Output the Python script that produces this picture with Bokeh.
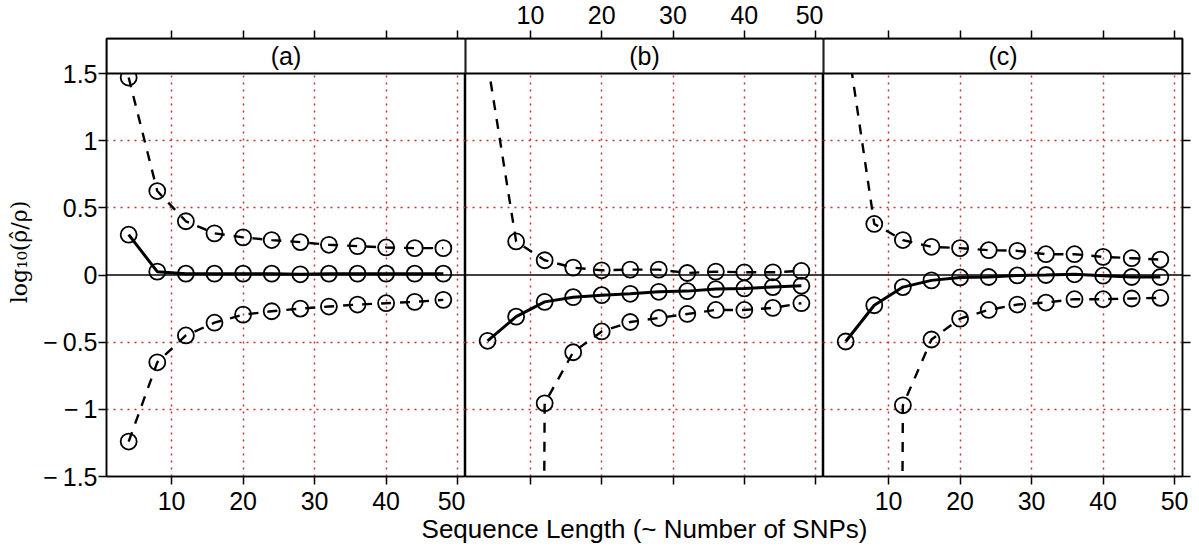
from bokeh.plotting import figure
from bokeh.layouts import row, column
from bokeh.models import FixedTicker, LinearAxis, Range1d, Span, CustomJSTickFormatter, Grid
from bokeh.core.properties import value
from bokeh.embed import file_html
from bokeh.resources import INLINE

# ---------------- data ----------------
seq_len = [4, 8, 12, 16, 20, 24, 28, 32, 36, 40, 44, 48]

a_upper = [1.47, 0.625, 0.40, 0.31, 0.28, 0.26, 0.245, 0.225, 0.215, 0.205, 0.20, 0.20]
a_median = [0.30, 0.025, 0.01, 0.01, 0.01, 0.01, 0.005, 0.01, 0.01, 0.01, 0.01, 0.01]
a_lower = [-1.24, -0.65, -0.45, -0.355, -0.295, -0.27, -0.25, -0.235, -0.22, -0.21, -0.20, -0.185]

b_upper = [1.58, 0.25, 0.11, 0.055, 0.035, 0.04, 0.04, 0.015, 0.025, 0.02, 0.02, 0.03]
b_median = [-0.49, -0.31, -0.20, -0.165, -0.15, -0.14, -0.125, -0.12, -0.105, -0.10, -0.09, -0.08]
b_lower = [-40.0, -40.0, -0.955, -0.575, -0.42, -0.35, -0.32, -0.29, -0.26, -0.26, -0.245, -0.21]

c_upper = [1.82, 0.38, 0.26, 0.21, 0.20, 0.185, 0.18, 0.155, 0.155, 0.135, 0.125, 0.115]
c_median = [-0.495, -0.225, -0.09, -0.04, -0.018, -0.015, -0.003, 0.0, 0.005, -0.005, -0.015, -0.015]
c_lower = [-40.0, -40.0, -0.97, -0.48, -0.325, -0.26, -0.22, -0.205, -0.18, -0.18, -0.175, -0.17]

panel_titles = ["(a)", "(b)", "(c)"]
x_ticks = [10, 20, 30, 40, 50]
y_ticks = [-1.5, -1, -0.5, 0, 0.5, 1, 1.5]
y_grid = [-1, -0.5, 0.5, 1]
x_label = "Sequence Length (~ Number of SNPs)"
y_label = "\u2002log\u2081\u2080(\u03c1\u0302/\u03c1)"

# ---------------- style ----------------
X_LO, X_HI = 0.9, 51.1
Y_LO, STRIP_Y, Y_HI = -1.5, 1.5, 1.7606
FONT = "Liberation Sans"
FS = "25px"
GRID_COLOR = "#c83232"

EMPTY = CustomJSTickFormatter(code="return '';")
MINUS = CustomJSTickFormatter(code="return tick < 0 ? '\u2212\u2009' + String(-tick) : String(tick);")


def style_axis(ax, ticks, labels=True, standoff=4):
    ax.ticker = FixedTicker(ticks=ticks)
    ax.formatter = MINUS if labels else EMPTY
    ax.major_tick_out = 8
    ax.major_tick_in = 0
    ax.minor_tick_out = 0
    ax.minor_tick_in = 0
    ax.major_tick_line_width = 1.5
    ax.major_tick_line_color = "black"
    ax.axis_line_width = 1.5
    ax.axis_line_color = "black"
    ax.major_label_text_font = FONT
    ax.major_label_text_font_size = FS
    ax.major_label_text_color = "black"
    ax.major_label_standoff = standoff
    return ax


def make_panel(idx, lower, median, upper, width, bl, br):
    p = figure(width=width, height=546,
               x_range=Range1d(X_LO, X_HI), y_range=Range1d(Y_LO, Y_HI),
               x_axis_location=None, y_axis_location=None,
               toolbar_location=None, output_backend="svg",
               min_border_left=bl, min_border_right=br,
               min_border_top=38, min_border_bottom=70)
    p.outline_line_color = "black"
    p.outline_line_width = 1.5
    p.background_fill_color = "white"
    p.border_fill_color = "white"
    p.grid.visible = False

    p.add_layout(Grid(dimension=0, ticker=FixedTicker(ticks=x_ticks),
                      grid_line_color=GRID_COLOR, grid_line_dash="2 5", grid_line_width=1.5))
    p.add_layout(Grid(dimension=1, ticker=FixedTicker(ticks=y_grid),
                      grid_line_color=GRID_COLOR, grid_line_dash="2 5", grid_line_width=1.5))

    p.add_layout(Span(location=0, dimension="width", line_color="black", line_width=1.5, level="underlay"))

    for ys in (upper, lower):
        p.line(seq_len, ys, line_color="black", line_width=2.4, line_dash="10 9")
        p.scatter(seq_len, ys, marker="circle", size=16, fill_color=None,
                  line_color="black", line_width=1.8)
    p.line(seq_len, median, line_color="black", line_width=3)
    p.scatter(seq_len, median, marker="circle", size=16, fill_color=None,
              line_color="black", line_width=1.8)

    # strip
    p.quad(left=[X_LO], right=[X_HI], bottom=[STRIP_Y], top=[Y_HI],
           fill_color="white", line_color="black", line_width=2)
    p.text(x=[(X_LO + X_HI) / 2], y=[(STRIP_Y + Y_HI) / 2], text=[panel_titles[idx]],
           text_align="center", text_baseline="middle",
           text_font=value(FONT), text_font_size=FS, text_color="black")

    # axes
    top = style_axis(LinearAxis(), x_ticks, labels=(idx == 1), standoff=7)
    p.add_layout(top, "above")
    bottom = style_axis(LinearAxis(), x_ticks, labels=(idx != 1), standoff=7)
    p.add_layout(bottom, "below")
    if idx == 0:
        left = style_axis(LinearAxis(), y_ticks, labels=True, standoff=1)
        left.axis_label = y_label
        left.axis_label_text_font = "DejaVu Serif"
        left.axis_label_text_font_size = "22px"
        left.axis_label_text_font_style = "normal"
        left.axis_label_text_color = "black"
        left.axis_label_standoff = 8
        p.add_layout(left, "left")
    if idx == 2:
        right = style_axis(LinearAxis(), y_ticks, labels=False)
        p.add_layout(right, "right")
    return p


pa = make_panel(0, a_lower, a_median, a_upper, 465, 106, 0)
pb = make_panel(1, b_lower, b_median, b_upper, 358, 0, 0)
pc = make_panel(2, c_lower, c_median, c_upper, 376, 0, 17)

# shared x-axis title, centred under the middle panel (overlaps the transparent bottom margin)
xl = figure(width=1199, height=60, x_range=Range1d(0, 1199), y_range=Range1d(0, 60),
            x_axis_location=None, y_axis_location=None, toolbar_location=None,
            output_backend="svg", min_border=0)
xl.outline_line_color = None
xl.background_fill_color = None
xl.border_fill_color = None
xl.grid.visible = False
xl.text(x=[644], y=[18], text=[x_label], text_align="center", text_baseline="alphabetic",
        text_font=value(FONT), text_font_size="26px", text_color="black")
xl.margin = (-60, 0, 0, 0)

layout = column(row(pa, pb, pc, spacing=0), xl, spacing=0)
open("out.html", "w").write(file_html(layout, INLINE))
